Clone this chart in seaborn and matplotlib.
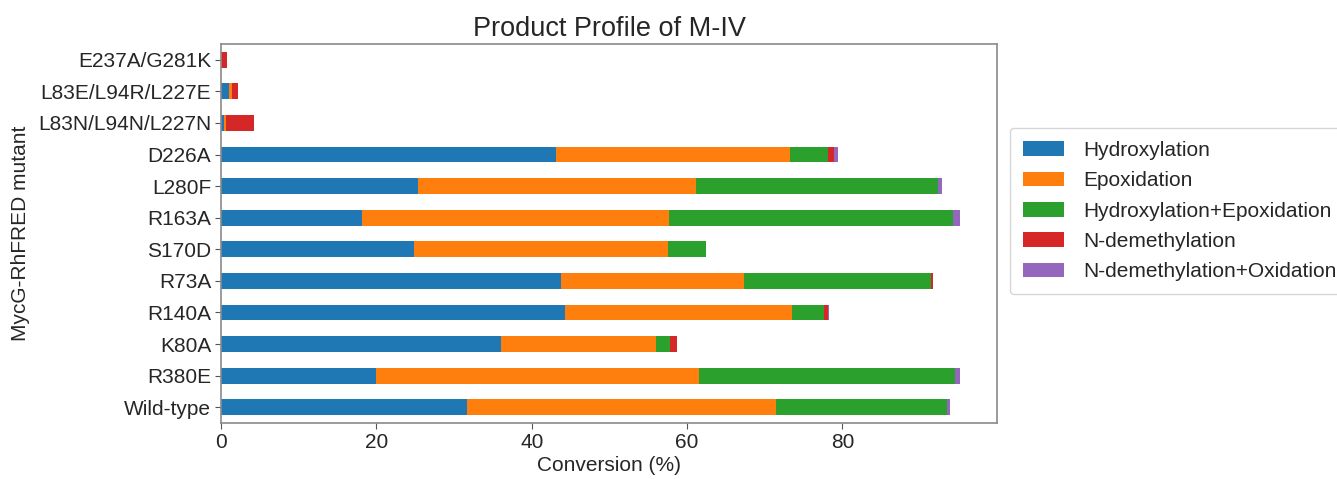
import numpy as np
import pandas as pd
import matplotlib
matplotlib.use("Agg")
import matplotlib.pyplot as plt
import seaborn as sns

# Conversion (%) by product class for each MycG-RhFRED variant
mutants = ["E237A/G281K", "L83E/L94R/L227E", "L83N/L94N/L227N", "D226A", "L280F",
           "R163A", "S170D", "R73A", "R140A", "K80A", "R380E", "Wild-type"]
hydroxylation = [0.0, 1.07, 0.34, 43.1, 25.4, 18.2, 24.8, 43.8, 44.3, 36.0, 20.0, 31.7]
epoxidation = [0.0, 0.34, 0.30, 30.2, 35.8, 39.5, 32.7, 23.5, 29.2, 20.0, 41.6, 39.7]
hydroxylation_epoxidation = [0.0, 0.0, 0.0, 4.9, 31.1, 36.5, 4.9, 24.1, 4.1, 1.8, 32.9, 22.0]
n_demethylation = [0.8, 0.77, 3.56, 0.7, 0.0, 0.0, 0.0, 0.3, 0.5, 0.9, 0.0, 0.0]
n_demethylation_oxidation = [0.0, 0.0, 0.0, 0.5, 0.5, 0.9, 0.0, 0.0, 0.2, 0.0, 0.6, 0.5]

products = ["Hydroxylation", "Epoxidation", "Hydroxylation+Epoxidation",
            "N-demethylation", "N-demethylation+Oxidation"]
colors = ["#1f77b4", "#ff7f0e", "#2ca02c", "#d62728", "#9467bd"]

df = pd.DataFrame({
    "mutant": mutants,
    products[0]: hydroxylation,
    products[1]: epoxidation,
    products[2]: hydroxylation_epoxidation,
    products[3]: n_demethylation,
    products[4]: n_demethylation_oxidation,
})
cum = df[products].cumsum(axis=1)
cum["mutant"] = df["mutant"]

sns.set_style("ticks")
plt.rcParams["font.family"] = ["Liberation Sans", "DejaVu Sans"]
text_color = "#262626"

fig = plt.figure(figsize=(13.37, 4.79), dpi=100)
ax = fig.add_axes([0.1653, 0.1169, 0.5804, 0.7912])

# stacked bars: draw cumulative totals from the outermost segment inward
for name, col in reversed(list(zip(products, colors))):
    sns.barplot(data=cum, x=name, y="mutant", order=mutants, color=col,
                orient="h", width=0.5, saturation=1, linewidth=0,
                label=name, ax=ax)

ax.set_xlim(0, 99.9)
ax.set_xticks([0, 20, 40, 60, 80])
ax.set_xlabel("Conversion (%)", fontsize=15, color=text_color, labelpad=3)
ax.set_ylabel("MycG-RhFRED mutant", fontsize=15, color=text_color, labelpad=6)
ax.set_title("Product Profile of M-IV", fontsize=19.5, color=text_color, pad=6)
ax.tick_params(axis="both", labelsize=15, colors=text_color, length=4,
               color="#555555", pad=3)
for s in ax.spines.values():
    s.set_color("#8a8a8a")
    s.set_linewidth(1.2)

handles, labels = ax.get_legend_handles_labels()
lookup = dict(zip(labels, handles))
leg = ax.legend([lookup[p] for p in products], products, loc="upper left",
                bbox_to_anchor=(1.017, 0.778), borderaxespad=0, fontsize=15,
                frameon=True, handlelength=2.0, labelspacing=0.55,
                borderpad=0.6, handletextpad=0.9)
leg.get_frame().set_edgecolor("#cccccc")
for t in leg.get_texts():
    t.set_color(text_color)

fig.savefig("out.png", dpi=100)
